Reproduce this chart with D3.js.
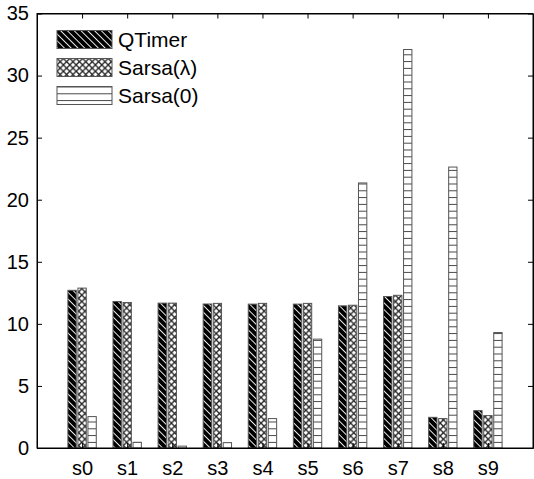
<!DOCTYPE html>
<html>
<head>
<meta charset="utf-8">
<script src="https://cdn.jsdelivr.net/npm/d3@7"></script>
<style>
  body { margin: 0; background: #fff; }
  text { font-family: "Liberation Sans", Arial, Helvetica, sans-serif; fill: #000; }
</style>
</head>
<body>
<div id="chart"></div>
<script>
// data
var states = ["s0", "s1", "s2", "s3", "s4", "s5", "s6", "s7", "s8", "s9"];
var seriesNames = ["QTimer", "Sarsa(\u03bb)", "Sarsa(0)"];
var qtimer = [12.7, 11.8, 11.67, 11.6, 11.59, 11.59, 11.45, 12.2, 2.47, 3.01];
var sarsaLambda = [12.88, 11.72, 11.67, 11.65, 11.65, 11.65, 11.5, 12.3, 2.37, 2.61];
var sarsa0 = [2.53, 0.46, 0.15, 0.43, 2.37, 8.77, 21.35, 32.1, 22.63, 9.3];
var yTicks = [0, 5, 10, 15, 20, 25, 30, 35];

var series = [qtimer, sarsaLambda, sarsa0];
var fills = ["url(#diag)", "url(#cross)", "url(#hline)"];

// set the dimensions and margins of the graph
var W = 534, H = 479;
var margin = {top: 13.5, right: 1, bottom: 31, left: 37},
    width = W - margin.left - margin.right,
    height = H - margin.top - margin.bottom;

var svg = d3.select("#chart")
  .append("svg")
    .attr("width", W)
    .attr("height", H);

// hatch patterns
var defs = svg.append("defs");

var diag = defs.append("pattern")
    .attr("id", "diag")
    .attr("patternUnits", "userSpaceOnUse")
    .attr("width", 4.8).attr("height", 4.8)
    .attr("patternTransform", "rotate(-45)");
diag.append("rect").attr("width", 4.8).attr("height", 4.8).attr("fill", "#000");
diag.append("line").attr("x1", 2.4).attr("x2", 2.4).attr("y1", 0).attr("y2", 4.8)
    .attr("stroke", "#fff").attr("stroke-width", 0.9);

var cross = defs.append("pattern")
    .attr("id", "cross")
    .attr("patternUnits", "userSpaceOnUse")
    .attr("width", 6.4).attr("height", 6.4);
cross.append("rect").attr("width", 6.4).attr("height", 6.4).attr("fill", "#fff");
cross.append("path").attr("d", "M0,0L6.4,6.4M6.4,0L0,6.4")
    .attr("stroke", "#222").attr("stroke-width", 1.3);

var hline = defs.append("pattern")
    .attr("id", "hline")
    .attr("patternUnits", "userSpaceOnUse")
    .attr("width", 6.8).attr("height", 6.8);
hline.append("rect").attr("width", 6.8).attr("height", 6.8).attr("fill", "#fff");
hline.append("line").attr("x1", 0).attr("x2", 6.8).attr("y1", 0.5).attr("y2", 0.5)
    .attr("stroke", "#444").attr("stroke-width", 1);

var g = svg.append("g")
    .attr("transform", `translate(${margin.left},${margin.top})`);

// scales
var xScale = d3.scaleLinear().domain([0, states.length + 1]).range([0, width]);
var yScale = d3.scaleLinear().domain([0, 35]).range([height, 0]);

var step = 0.222, barW = 0.185;

// bars
series.forEach(function(vals, j) {
  g.append("g").selectAll("rect")
    .data(vals)
    .enter().append("rect")
      .attr("x", (d, i) => xScale(i + 1 + (j - 1) * step - barW / 2))
      .attr("width", xScale(barW) - xScale(0))
      .attr("y", d => yScale(d))
      .attr("height", d => yScale(0) - yScale(d))
      .attr("fill", fills[j])
      .attr("stroke", "#555")
      .attr("stroke-width", 1);
});

// axes, MATLAB style: ticks inside on all four sides
var idx = states.map((s, i) => i + 1);

var xAxis = d3.axisBottom(xScale).tickValues(idx)
    .tickFormat((d, i) => states[i])
    .tickSizeInner(-5).tickSizeOuter(0).tickPadding(13);
var xTop = d3.axisTop(xScale).tickValues(idx).tickFormat("")
    .tickSizeInner(-5).tickSizeOuter(0);
var yAxis = d3.axisLeft(yScale).tickValues(yTicks)
    .tickSizeInner(-5).tickSizeOuter(0).tickPadding(8);
var yRight = d3.axisRight(yScale).tickValues(yTicks).tickFormat("")
    .tickSizeInner(-5).tickSizeOuter(0);

function styleAxis(sel) {
  sel.selectAll("path, line").attr("stroke", "#000").attr("stroke-width", 1);
  sel.selectAll("text").attr("font-size", "20px")
    .attr("font-family", '"Liberation Sans", Arial, sans-serif');
}

g.append("g").attr("transform", `translate(0,${height})`).call(xAxis).call(styleAxis);
g.append("g").call(xTop).call(styleAxis);
g.append("g").call(yAxis).call(styleAxis);
g.append("g").attr("transform", `translate(${width},0)`).call(yRight).call(styleAxis);

// frame
g.append("rect")
    .attr("width", width).attr("height", height)
    .attr("fill", "none").attr("stroke", "#000").attr("stroke-width", 1);

// legend
var legend = g.append("g").attr("transform", "translate(20,17)");
seriesNames.forEach(function(name, j) {
  var row = legend.append("g").attr("transform", `translate(0,${j * 28})`);
  row.append("rect")
      .attr("width", 55).attr("height", 18)
      .attr("fill", fills[j])
      .attr("stroke", "#555");
  row.append("text")
      .attr("x", 61).attr("y", 16.5)
      .attr("font-size", "21px")
      .text(name);
});
</script>
</body>
</html>
